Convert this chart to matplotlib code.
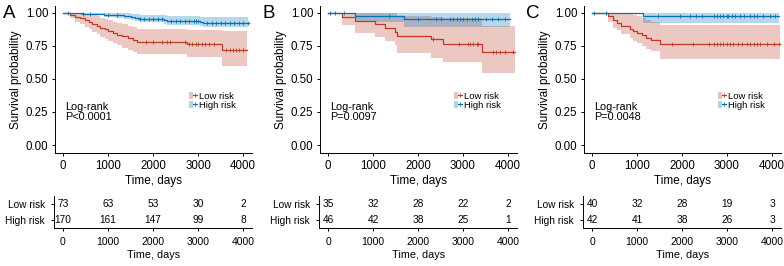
import numpy as np
import matplotlib
matplotlib.use("Agg")
import matplotlib.pyplot as plt
from matplotlib.patches import Patch
from matplotlib.lines import Line2D
from matplotlib.legend_handler import HandlerTuple

plt.rcParams['font.family'] = ['Liberation Sans', 'DejaVu Sans']

RED = '#BC3C29'
BLUE = '#0072B5'

# ---------------- data ----------------
panels = ['A', 'B', 'C']
pvals = ['P<0.0001', 'P=0.0097', 'P=0.0048']
groups = ['Low risk', 'High risk']
time_ticks = [0, 1000, 2000, 3000, 4000]

# Panel A
a_low_t = [0, 150, 270, 380, 480, 570, 640, 750, 830, 930, 1010, 1120, 1200, 1310, 1450, 1560, 1640, 2750, 3530]
a_low_s = [1.0, 0.986, 0.973, 0.959, 0.945, 0.932, 0.918, 0.904, 0.890, 0.877, 0.863, 0.849, 0.836, 0.822, 0.808, 0.794, 0.780, 0.764, 0.716]
a_low_lo = [1.0, 0.96, 0.935, 0.915, 0.895, 0.875, 0.855, 0.84, 0.82, 0.80, 0.785, 0.77, 0.755, 0.735, 0.72, 0.705, 0.69, 0.67, 0.595]
a_low_hi = [1.0, 1.0, 1.0, 1.0, 0.995, 0.99, 0.985, 0.975, 0.965, 0.955, 0.945, 0.935, 0.925, 0.915, 0.905, 0.895, 0.882, 0.87, 0.86]
a_low_end = 4080
a_low_cens = [1850, 2000, 2200, 2300, 2380, 2700, 2800, 2870, 2950, 3000, 3080, 3150, 3250, 3350, 3620, 3700, 3780, 3850, 3920, 4000]

a_high_t = [0, 450, 900, 1150, 1350, 1500, 1600, 1700, 2250, 2320, 3050, 3100]
a_high_s = [1.0, 0.994, 0.988, 0.982, 0.976, 0.970, 0.964, 0.958, 0.950, 0.943, 0.935, 0.928]
a_high_lo = [1.0, 0.983, 0.972, 0.962, 0.953, 0.945, 0.937, 0.929, 0.918, 0.910, 0.900, 0.892]
a_high_hi = [1.0, 1.0, 1.0, 1.0, 0.999, 0.996, 0.992, 0.988, 0.983, 0.978, 0.972, 0.968]
a_high_end = 4100
a_high_cens = [100, 450, 600, 1000, 1200, 1700, 1800, 1900, 2000, 2100, 2200, 2400, 2500, 2600, 2700, 2800,
               2900, 2950, 3000, 3200, 3300, 3400, 3500, 3600, 3700, 3800, 3900, 4000, 4100]

# Panel B
b_low_t = [0, 300, 600, 1050, 1270, 1490, 1530, 2280, 2550, 3420]
b_low_s = [1.0, 0.971, 0.943, 0.914, 0.886, 0.857, 0.829, 0.800, 0.765, 0.703]
b_low_lo = [1.0, 0.91, 0.85, 0.82, 0.79, 0.76, 0.70, 0.66, 0.63, 0.545]
b_low_hi = [1.0, 1.0, 1.0, 1.0, 1.0, 1.0, 0.98, 0.97, 0.96, 0.90]
b_low_end = 4150
b_low_cens = [2340, 2900, 3120, 3160, 3230, 3300, 3340, 3670, 3740, 3820, 3930, 4120]

b_high_t = [0, 600, 1680]
b_high_s = [1.0, 0.978, 0.955]
b_high_lo = [1.0, 0.935, 0.895]
b_high_hi = [1.0, 1.0, 1.0]
b_high_end = 4040
b_high_cens = [40, 150, 350, 1350, 2000, 2400, 2520, 2700, 2780, 2860, 2930, 3000, 3080, 3190, 3270, 3340,
               3520, 3640, 3780, 3930]

# Panel C
c_low_t = [0, 350, 460, 560, 650, 840, 910, 990, 1100, 1210, 1320, 1510]
c_low_s = [1.0, 0.975, 0.95, 0.925, 0.90, 0.875, 0.86, 0.845, 0.83, 0.81, 0.795, 0.765]
c_low_lo = [1.0, 0.93, 0.89, 0.87, 0.84, 0.81, 0.79, 0.77, 0.75, 0.73, 0.71, 0.65]
c_low_hi = [1.0, 1.0, 1.0, 1.0, 1.0, 0.995, 0.985, 0.975, 0.965, 0.95, 0.935, 0.91]
c_low_end = 4180
c_low_cens = [1770, 2250, 2590, 2700, 2770, 2850, 2920, 2990, 3070, 3140, 3250, 3330, 3440, 3520, 3590,
              3670, 3740, 3890, 4040, 4150]

c_high_t = [0, 1130]
c_high_s = [1.0, 0.976]
c_high_lo = [1.0, 0.925]
c_high_hi = [1.0, 1.0]
c_high_end = 4150
c_high_cens = [50, 310, 1470, 1950, 2180, 2320, 2440, 2700, 2770, 2850, 2920, 2990, 3030, 3110, 3180, 3290,
               3370, 3520, 3590, 3670, 3810, 3960, 4070]

# Risk tables (numbers at risk at 0,1000,2000,3000,4000)
a_risk_low = [73, 63, 53, 30, 2]
a_risk_high = [170, 161, 147, 99, 8]
b_risk_low = [35, 32, 28, 22, 2]
b_risk_high = [46, 42, 38, 25, 1]
c_risk_low = [40, 32, 28, 19, 3]
c_risk_high = [42, 41, 38, 26, 3]

curves = {
    'A': [(a_low_t, a_low_s, a_low_lo, a_low_hi, a_low_end, a_low_cens),
          (a_high_t, a_high_s, a_high_lo, a_high_hi, a_high_end, a_high_cens)],
    'B': [(b_low_t, b_low_s, b_low_lo, b_low_hi, b_low_end, b_low_cens),
          (b_high_t, b_high_s, b_high_lo, b_high_hi, b_high_end, b_high_cens)],
    'C': [(c_low_t, c_low_s, c_low_lo, c_low_hi, c_low_end, c_low_cens),
          (c_high_t, c_high_s, c_high_lo, c_high_hi, c_high_end, c_high_cens)],
}
risks = {'A': (a_risk_low, a_risk_high), 'B': (b_risk_low, b_risk_high), 'C': (c_risk_low, c_risk_high)}

# ---------------- layout ----------------
W, H = 784, 266
fig = plt.figure(figsize=(W / 100, H / 100), dpi=100)

PX_PER_DAY = 0.045
zero_px = {'A': 63, 'B': 328, 'C': 592}
letter_px = {'A': 3, 'B': 262, 'C': 526}

main_xmin, main_xmax = -170, 4210
tab_xmin, tab_xmax = -200, 4210
main_top, main_bot = 6, 153
ymin, ymax = -0.0606, 1.053
tab_top, tab_bot = 196, 228


def add_ax(l, t, r, b):
    return fig.add_axes([l / W, 1 - b / H, (r - l) / W, (b - t) / H])


def style(ax):
    for s in ['top', 'right']:
        ax.spines[s].set_visible(False)
    for s in ['left', 'bottom']:
        ax.spines[s].set_linewidth(0.7)
    ax.tick_params(length=2.5, width=0.7, colors='black', pad=2)


colors = [RED, BLUE]

for i, p in enumerate(panels):
    z = zero_px[p]
    ax = add_ax(z + main_xmin * PX_PER_DAY, main_top, z + main_xmax * PX_PER_DAY, main_bot)
    style(ax)
    ax.set_xlim(main_xmin, main_xmax)
    ax.set_ylim(ymin, ymax)
    for (t, s, lo, hi, end, cens), col in zip(curves[p], colors):
        tt = np.array(t + [end], dtype=float)
        ss = np.array(s + [s[-1]])
        ll = np.array(lo + [lo[-1]])
        hh = np.array(hi + [hi[-1]])
        ax.fill_between(tt, ll, hh, step='post', color=col, alpha=0.28, linewidth=0)
        ax.step(tt, ss, where='post', color=col, lw=0.9)
        c = np.array(cens, dtype=float)
        idx = np.searchsorted(np.array(t, dtype=float), c, side='right') - 1
        ax.plot(c, np.array(s)[idx], linestyle='none', marker='+', color=col, ms=3.5, mew=0.6)
    ax.set_xticks(time_ticks)
    ax.set_yticks([0, 0.25, 0.5, 0.75, 1.0])
    ax.set_yticklabels(['0.00', '0.25', '0.50', '0.75', '1.00'])
    ax.tick_params(labelsize=8.3, pad=2.5)
    ax.set_xlabel('Time, days', fontsize=8.5, labelpad=2.5)
    ax.set_ylabel('Survival probability', fontsize=8.5, labelpad=3)
    ax.text(40, 0.25, 'Log-rank\n' + pvals[i], fontsize=7.8, va='center', ha='left', linespacing=1.05)
    handles = [(Patch(facecolor=col, alpha=0.3, edgecolor='none'),
                Line2D([], [], color=col, lw=0.9, marker='+', ms=3.5, mew=0.6)) for col in colors]
    ax.legend(handles, groups, handler_map={tuple: HandlerTuple(ndivide=None, pad=0)},
              loc='center left', bbox_to_anchor=(0.68, 0.357), frameon=False, fontsize=6.8,
              handlelength=0.8, handleheight=0.7, handletextpad=0.2, labelspacing=0.0, borderpad=0,
              borderaxespad=0)
    fig.text(letter_px[p] / W, 1 - 14 / H, p, fontsize=13.5, va='center', ha='left')

    # risk table
    tx = add_ax(z + tab_xmin * PX_PER_DAY, tab_top, z + tab_xmax * PX_PER_DAY, tab_bot)
    style(tx)
    tx.set_xlim(tab_xmin, tab_xmax)
    tx.set_ylim(0.5, 2.5)
    low, high = risks[p]
    for xv, n in zip(time_ticks, low):
        tx.text(xv, 2, str(n), ha='center', va='center', fontsize=7.3)
    for xv, n in zip(time_ticks, high):
        tx.text(xv, 1, str(n), ha='center', va='center', fontsize=7.3)
    tx.set_yticks([2, 1])
    tx.set_yticklabels(groups, fontsize=7.3)
    tx.tick_params(axis='y', pad=4)
    tx.set_xticks(time_ticks)
    tx.tick_params(axis='x', labelsize=7.5, pad=4)
    tx.set_xlabel('Time, days', fontsize=7.8, labelpad=2)

fig.savefig('out.png', dpi=100)
